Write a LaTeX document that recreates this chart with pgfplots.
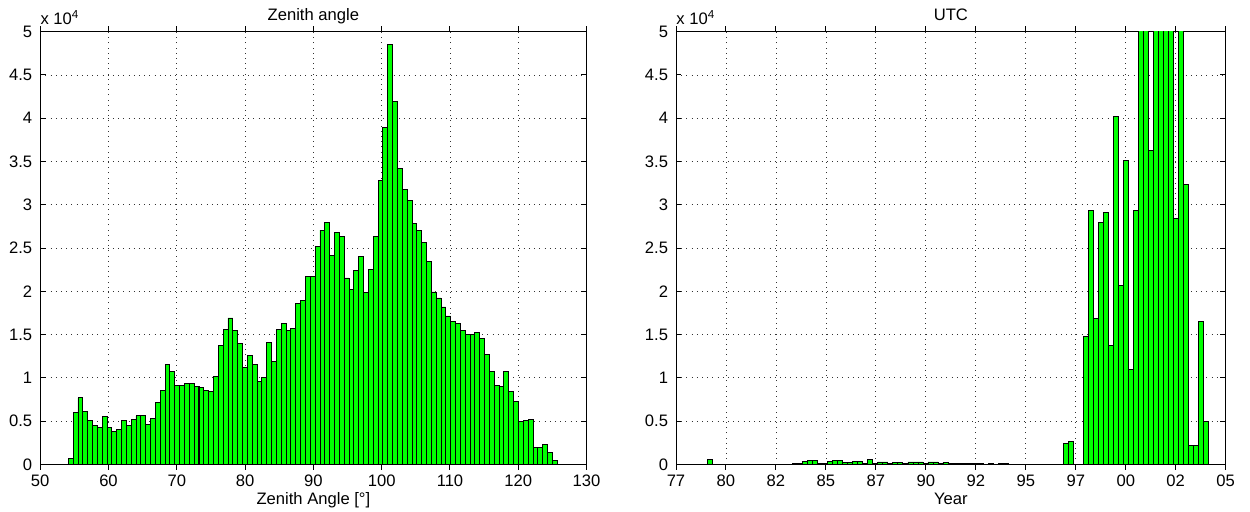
\documentclass[border=0pt]{standalone}
\usepackage{pgfplots}
\pgfplotsset{compat=1.18}
\usepackage{fontspec}
\setmainfont{Liberation Sans}
\begin{document}
\fontsize{8.3}{10}\selectfont
\begin{tikzpicture}
\path[use as bounding box] (0,0) rectangle (625pt,255.5pt);
\pgfplotsset{
 mystyle/.style={
  scale only axis, anchor=south west,
  height=216.3pt,
  ymin=0, ymax=50000,
  ytick={0,5000,10000,15000,20000,25000,30000,35000,40000,45000,50000},
  yticklabels={0,0.5,1,1.5,2,2.5,3,3.5,4,4.5,5},
  scaled y ticks=false,
  grid=major,
  major grid style={black!80, line width=0.4pt, dash pattern=on 0.4pt off 2.2pt},
  axis line style={line width=0.5pt},
  tick style={line width=0.5pt, black},
  major tick length=2.7pt,
  tick align=inside,
  clip mode=individual,
  xticklabel style={anchor=north, inner sep=0pt, yshift=-2.6pt},
  yticklabel style={anchor=east, inner sep=0pt, xshift=-3.8pt},
  every axis title shift=0pt,
  title style={at={(axis description cs:0.5,1)}, anchor=base, yshift=5.5pt, inner sep=0pt},
  xlabel style={at={(axis description cs:0.5,0)}, anchor=base, yshift=-20.3pt, inner sep=0pt},
  ybar,
 },
 mybar/.style={fill=green, draw=black, line width=0.4pt},
}
\begin{axis}[mystyle,
  at={(20.1pt,23.35pt)}, width=273.2pt,
  xmin=50, xmax=130,
  xtick={50,60,70,80,90,100,110,120,130},
  xticklabels={50,60,70,80,90,100,110,120,130},
  bar width=0.7087,
  title={Zenith angle},
  xlabel={Zenith Angle [°]}]
\addplot[mybar] coordinates {
(54.46,700) (55.17,5960) (55.88,7690) (56.59,6110) (57.29,5080) (58.00,4460) (58.71,4300) (59.42,5500) (60.13,4300) (60.84,3760)
(61.55,4040) (62.26,5030) (62.96,4500) (63.67,5190) (64.38,5610) (65.09,5610) (65.80,4620) (66.51,5340) (67.22,7150) (67.93,8540)
(68.63,11500) (69.34,10730) (70.05,9150) (70.76,9150) (71.47,9350) (72.18,9300) (72.89,9000) (73.59,8880) (74.30,8570) (75.01,8420)
(75.72,10190) (76.43,13730) (77.14,15580) (77.85,16920) (78.56,15420) (79.26,13960) (79.97,11190) (80.68,12530) (81.39,11540) (82.10,9610)
(82.81,10040) (83.52,14110) (84.23,11920) (84.93,15580) (85.64,16300) (86.35,15460) (87.06,15730) (87.77,18610) (88.48,18960) (89.19,21690)
(89.90,21690) (90.60,25190) (91.31,27070) (92.02,27960) (92.73,24190) (93.44,26810) (94.15,26350) (94.86,21540) (95.56,20230) (96.27,22420)
(96.98,24040) (97.69,19880) (98.40,22570) (99.11,26380) (99.82,32770) (100.53,38890) (101.23,48500) (101.94,41960) (102.65,34230) (103.36,31770)
(104.07,30460) (104.78,27810) (105.49,27070) (106.20,25620) (106.90,23460) (107.61,19920) (108.32,19230) (109.03,18190) (109.74,17150) (110.45,16460)
(111.16,16270) (111.87,15420) (112.57,15000) (113.28,15000) (113.99,15270) (114.70,14540) (115.41,12650) (116.12,10730) (116.83,9150) (117.53,9000)
(118.24,10730) (118.95,8420) (119.66,7270) (120.37,4920) (121.08,5080) (121.79,5190) (122.50,2000) (123.20,2000) (123.91,2310) (124.62,1420)
(125.33,460)
};
\node[anchor=base west, inner sep=0pt, yshift=3.85pt] at (rel axis cs:0,1) {x 10\textsuperscript{4}};
\end{axis}
\begin{axis}[mystyle,
  at={(338pt,23.35pt)}, width=274.85pt,
  xmin=1977.5, xmax=2005,
  xtick={1977.5,1980,1982.5,1985,1987.5,1990,1992.5,1995,1997.5,2000,2002.5,2005},
  xticklabels={77,80,82,85,87,90,92,95,97,00,02,05},
  bar width=0.2505,
  title={UTC},
  xlabel={Year}]
\addplot[mybar] coordinates {
(1979.21,600) (1979.46,0) (1979.71,0) (1979.96,0) (1980.21,0) (1980.46,0) (1980.71,0) (1980.96,0) (1981.21,0) (1981.46,0)
(1981.71,0) (1981.96,0) (1982.21,0) (1982.46,0) (1982.71,0) (1982.96,0) (1983.21,0) (1983.46,100) (1983.71,150) (1983.96,350)
(1984.22,420) (1984.47,420) (1984.72,150) (1984.97,150) (1985.22,350) (1985.47,420) (1985.72,420) (1985.97,200) (1986.22,230) (1986.47,300)
(1986.72,300) (1986.97,150) (1987.22,600) (1987.47,100) (1987.72,270) (1987.97,270) (1988.22,100) (1988.47,230) (1988.72,230) (1988.97,100)
(1989.23,270) (1989.48,270) (1989.73,270) (1989.98,150) (1990.23,270) (1990.48,270) (1990.73,150) (1990.98,230) (1991.23,100) (1991.48,80)
(1991.73,80) (1991.98,80) (1992.23,80) (1992.48,50) (1992.73,50) (1992.98,0) (1993.23,60) (1993.48,0) (1993.73,50) (1993.98,60)
(1994.24,0) (1994.49,0) (1994.74,0) (1994.99,0) (1995.24,0) (1995.49,0) (1995.74,0) (1995.99,0) (1996.24,0) (1996.49,0)
(1996.74,0) (1996.99,2420) (1997.24,2610) (1997.49,0) (1997.74,0) (1997.99,14730) (1998.24,29310) (1998.49,16850) (1998.74,28000) (1998.99,29080)
(1999.25,13690) (1999.50,40230) (1999.75,20690) (2000.00,35120) (2000.25,10960) (2000.50,29310) (2000.75,60000) (2001.00,60000) (2001.25,36300) (2001.50,60000)
(2001.75,60000) (2002.00,60000) (2002.25,60000) (2002.50,28420) (2002.75,60000) (2003.00,32350) (2003.25,2150) (2003.51,2150) (2003.76,16460) (2004.01,4920)
};
\node[anchor=base west, inner sep=0pt, yshift=3.85pt] at (rel axis cs:0,1) {x 10\textsuperscript{4}};
\end{axis}
\end{tikzpicture}
\end{document}
